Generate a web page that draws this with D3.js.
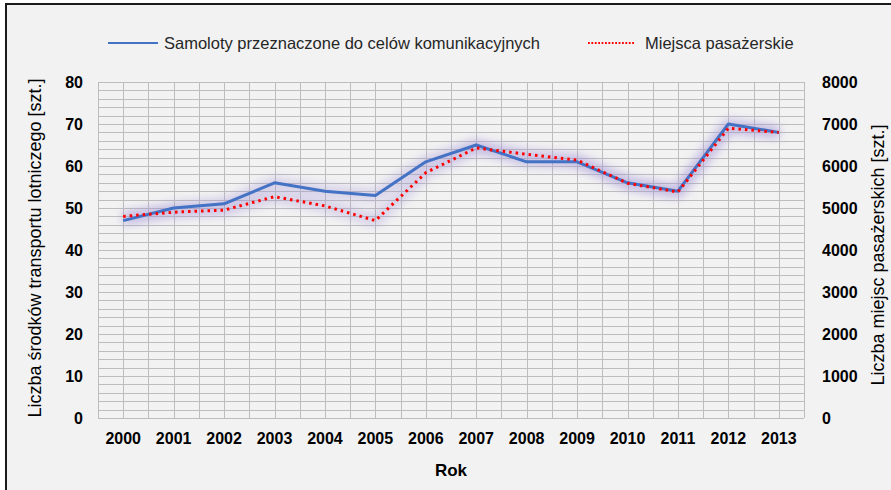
<!DOCTYPE html>
<html>
<head>
<meta charset="utf-8">
<script src="https://cdn.jsdelivr.net/npm/d3@7"></script>
<style>
html,body{margin:0;padding:0;background:#fff;}
svg{display:block;}
</style>
</head>
<body>
<svg id="chart" width="891" height="490"></svg>
<script>
const years = ["2000","2001","2002","2003","2004","2005","2006","2007","2008","2009","2010","2011","2012","2013"];
const aircraft = [47, 50, 51, 56, 54, 53, 61, 65, 61, 61, 56, 54, 70, 68];
const seats = [4800, 4900, 4950, 5270, 5050, 4700, 5840, 6430, 6280, 6140, 5590, 5380, 6900, 6800];
const leftTicks = [0, 10, 20, 30, 40, 50, 60, 70, 80];
const rightTicks = [0, 1000, 2000, 3000, 4000, 5000, 6000, 7000, 8000];
const seriesNames = ["Samoloty przeznaczone do celów komunikacyjnych", "Miejsca pasażerskie"];
const leftTitle = "Liczba środków transportu lotniczego [szt.]";
const rightTitle = "Liczba miejsc pasażerskich [szt.]";
const xTitle = "Rok";

const svg = d3.select("#chart");
const FONT = "'Liberation Sans', Arial, sans-serif";

// background & frame
svg.append("rect").attr("x", 6).attr("y", 4).attr("width", 891).attr("height", 490)
  .attr("fill", "#f2f2f2").attr("stroke", "#1a1a1a").attr("stroke-width", 2);

const plot = {left: 98, right: 804, top: 82, bottom: 418};

const x = d3.scaleBand().domain(years).range([plot.left, plot.right]);
const yL = d3.scaleLinear().domain([0, 80]).range([plot.bottom, plot.top]);
const yR = d3.scaleLinear().domain([0, 8000]).range([plot.bottom, plot.top]);

// filter for glow
const defs = svg.append("defs");
const f = defs.append("filter").attr("id", "glow").attr("x", "-10%").attr("y", "-50%").attr("width", "120%").attr("height", "200%");
f.append("feGaussianBlur").attr("stdDeviation", 5);

// grid
const grid = svg.append("g").attr("stroke", "#bdbdbd").attr("stroke-width", 1).attr("shape-rendering", "crispEdges");
grid.selectAll("line.h").data(d3.range(0, 81, 2)).join("line")
  .attr("x1", plot.left).attr("x2", plot.right)
  .attr("y1", d => Math.round(yL(d)) + 0.5).attr("y2", d => Math.round(yL(d)) + 0.5);
const vpos = [];
years.forEach(d => { vpos.push(x(d)); vpos.push(x(d) + x.bandwidth() / 2); });
vpos.push(plot.right);
grid.selectAll("line.v").data(vpos).join("line")
  .attr("x1", d => Math.round(d) + 0.5).attr("x2", d => Math.round(d) + 0.5)
  .attr("y1", plot.top).attr("y2", plot.bottom);

const cx = d => x(d) + x.bandwidth() / 2;
const lineL = d3.line().x((d, i) => cx(years[i])).y(d => yL(d));
const lineR = d3.line().x((d, i) => cx(years[i])).y(d => yR(d));

// glow layers
[[aircraft, lineL], [seats, lineR]].forEach(([data, gen]) => {
  svg.append("path").datum(data).attr("d", gen).attr("fill", "none")
    .attr("stroke", "#a090d8").attr("stroke-opacity", 0.35).attr("stroke-width", 12)
    .attr("stroke-linejoin", "round").attr("filter", "url(#glow)");
});

svg.append("path").datum(aircraft).attr("d", lineL).attr("fill", "none")
  .attr("stroke", "#4472c4").attr("stroke-width", 3).attr("stroke-linejoin", "round");
svg.append("path").datum(seats).attr("d", lineR).attr("fill", "none")
  .attr("stroke", "#ff0000").attr("stroke-width", 3).attr("stroke-dasharray", "2.5,4");

// axes
const axL = d3.axisLeft(yL).tickValues(leftTicks).tickSize(0).tickPadding(0);
const gL = svg.append("g").attr("transform", `translate(83,0)`).call(axL);
const axR = d3.axisRight(yR).tickValues(rightTicks).tickFormat(d3.format("d")).tickSize(0).tickPadding(0);
const gR = svg.append("g").attr("transform", `translate(822,0)`).call(axR);
const axB = d3.axisBottom(x).tickSize(0).tickPadding(0);
const gB = svg.append("g").attr("transform", `translate(0,433)`).call(axB);
[gL, gR, gB].forEach(g => {
  g.select(".domain").remove();
  g.selectAll("text").attr("font-family", FONT).attr("font-size", 16).attr("font-weight", "bold").attr("fill", "#000");
});

// titles
svg.append("text").attr("transform", `translate(${(plot.left + plot.right) / 2},476)`)
  .attr("text-anchor", "middle").attr("font-family", FONT).attr("font-size", 17).attr("font-weight", "bold").text(xTitle);
svg.append("text").attr("transform", `translate(41,${(plot.top + plot.bottom) / 2 - 2}) rotate(-90)`)
  .attr("text-anchor", "middle").attr("font-family", FONT).attr("font-size", 18).attr("fill", "#000").text(leftTitle);
svg.append("text").attr("transform", `translate(884,${(plot.top + plot.bottom) / 2 + 5}) rotate(-90)`)
  .attr("text-anchor", "middle").attr("font-family", FONT).attr("font-size", 18).attr("fill", "#000").text(rightTitle);

// legend
const lg = svg.append("g").attr("font-family", FONT).attr("font-size", 16.5).attr("fill", "#262626");
lg.append("line").attr("x1", 108).attr("x2", 158).attr("y1", 43).attr("y2", 43).attr("stroke", "#4472c4").attr("stroke-width", 2);
lg.append("text").attr("x", 164).attr("y", 49).text(seriesNames[0]);
lg.append("line").attr("x1", 588).attr("x2", 635).attr("y1", 43).attr("y2", 43).attr("stroke", "#ff0000").attr("stroke-width", 2).attr("stroke-dasharray", "1.8,1.6");
lg.append("text").attr("x", 645).attr("y", 49).text(seriesNames[1]);
</script>
</body>
</html>
